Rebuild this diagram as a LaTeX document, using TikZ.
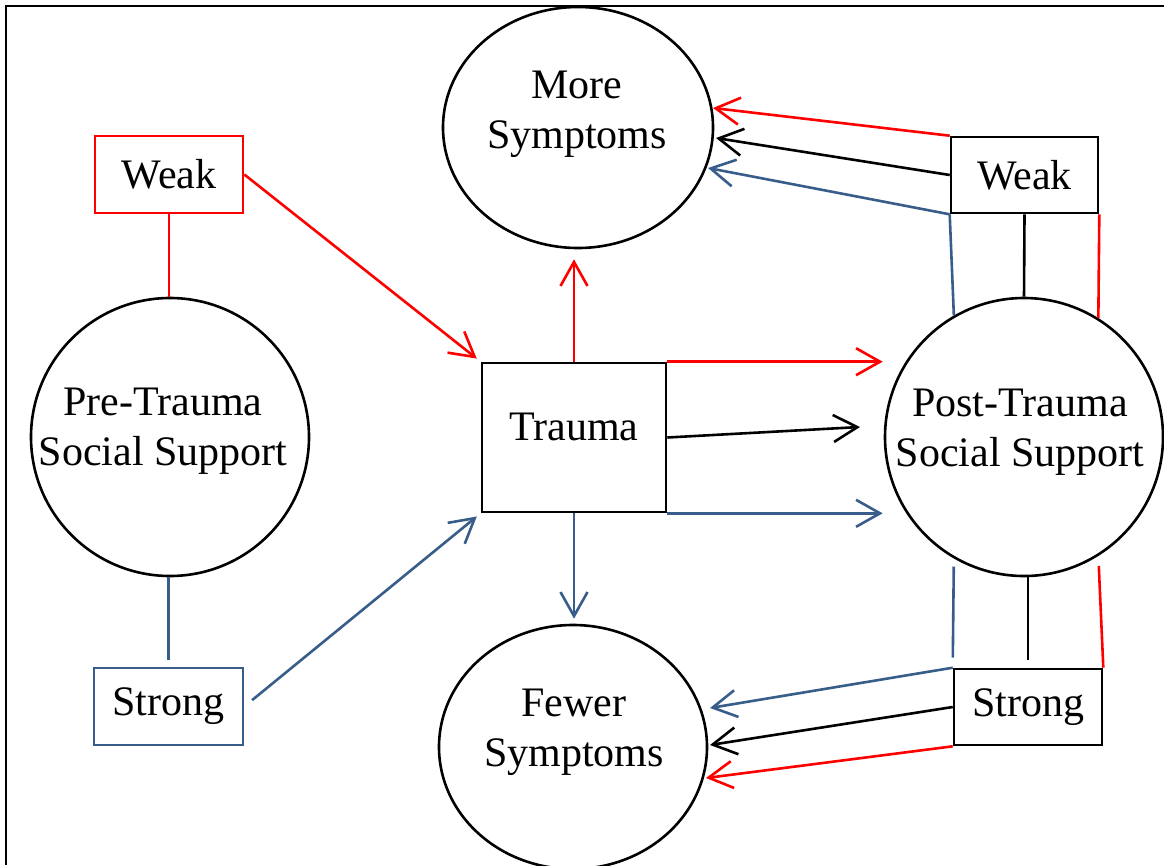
\documentclass[tikz,border=0pt]{standalone}
\usepackage{fontspec}
\setmainfont{Liberation Serif}
\usetikzlibrary{arrows.meta,shapes.geometric,calc}
\definecolor{sred}{RGB}{255,0,0}
\definecolor{sblue}{RGB}{56,93,138}
\tikzset{
  lw/.style={line width=2.6pt},
  redl/.style={lw, draw=sred},
  bluel/.style={lw, draw=sblue},
  blackl/.style={lw, draw=black},
  arr/.style={-{Straight Barb[length=24pt,width=27pt]}},
  boxnode/.style={rectangle, lw, inner sep=0pt, minimum width=148pt, minimum height=77pt, font=\fontsize{42}{50}\selectfont},
  circ/.style={circle, draw, lw, inner sep=0pt, minimum size=278pt},
  ell/.style={ellipse, draw, lw, inner sep=0pt, minimum width=270pt, minimum height=241pt},
  lbl/.style={inner sep=0pt, align=center, font=\fontsize{42}{50}\selectfont}
}
\begin{document}
\begin{tikzpicture}[x=1pt,y=-1pt]
\useasboundingbox (0,0) rectangle (1164,865);
\draw[line width=2.6pt] (1164,6) -- (6,6) -- (6,865);

% nodes
\node[boxnode, draw=sred] (wkL) at (169,174.5) {Weak};
\node[boxnode, draw=sblue, minimum width=149pt] (stL) at (168.5,706.5) {Strong};
\node[circ] (pre) at (170,437) {};
\node[lbl] (pretext) at (163,431) {Pre-Trauma\\Social Support};

\node[rectangle, draw, lw, inner sep=0pt, minimum width=184pt, minimum height=149pt] (trauma) at (574,437.5) {};
\node[lbl] (traumatext) at (574,426.5) {Trauma};

\node[ell] (more) at (578,127.5) {};
\node[lbl] (moretext) at (577,114.5) {More\\Symptoms};
\node[ell, minimum width=268pt, minimum height=244pt] (fewer) at (573,747) {};
\node[lbl] (fewertext) at (574,732) {Fewer\\Symptoms};

\node[circ] (post) at (1024,437) {};
\node[lbl] (posttext) at (1020,432) {Post-Trauma\\Social Support};

\node[boxnode, draw=black, minimum width=147pt, minimum height=76pt] (wkR) at (1024.5,175) {Weak};
\node[boxnode, draw=black, minimum height=76pt] (stR) at (1028,707) {Strong};

\coordinate (pin) at (860,427);
\coordinate (m1) at (713,108);
\coordinate (m2) at (716,138);
\coordinate (m3) at (708,168);
\coordinate (f1) at (710,708);
\coordinate (f2) at (710,745);
\coordinate (f3) at (706,778);

% left side
\draw[redl] (wkL.south) -- (wkL.south |- pre.north);
\draw[bluel, shorten >=7pt] (pre.south -| stL.north) -- (stL.north);
\draw[redl, arr, shorten >=5pt] (wkL.east) -- (trauma.north west);
\draw[bluel, arr, shorten <=10pt, shorten >=5pt] (stL.east) -- (trauma.south west);

% trauma outputs
\draw[redl, arr, shorten >=10pt] (trauma.north) -- (trauma.north |- more.south);
\draw[bluel, arr, shorten >=5pt] (trauma.south) -- (trauma.south |- fewer.north);
\draw[redl, arr, shorten >=1pt] (trauma.north east) -- (trauma.north east -| post.west);
\draw[blackl, arr] (trauma.east) -- (pin);
\draw[bluel, arr, shorten >=1pt] (trauma.south east) -- (trauma.south east -| post.west);

% right weak
\draw[redl, arr] (wkR.north west) -- (m1);
\draw[blackl, arr] (wkR.west) -- (m2);
\draw[bluel, arr] (wkR.south west) -- (m3);
\draw[bluel] (wkR.south west) -- (post.120);
\draw[blackl] (wkR.south) -- (post.north);
\draw[redl] (wkR.south east) -- (post.58);

% right strong
\draw[bluel, shorten <=8pt, shorten >=10pt] (post.-120) -- (stR.north west);
\draw[blackl, shorten >=8pt] (post.south -| stR.north) -- (stR.north);
\draw[redl, shorten <=10pt] (post.-58) -- (stR.north east);
\draw[bluel, arr] (stR.north west) -- (f1);
\draw[blackl, arr] (stR.west) -- (f2);
\draw[redl, arr] (stR.south west) -- (f3);
\end{tikzpicture}
\end{document}
